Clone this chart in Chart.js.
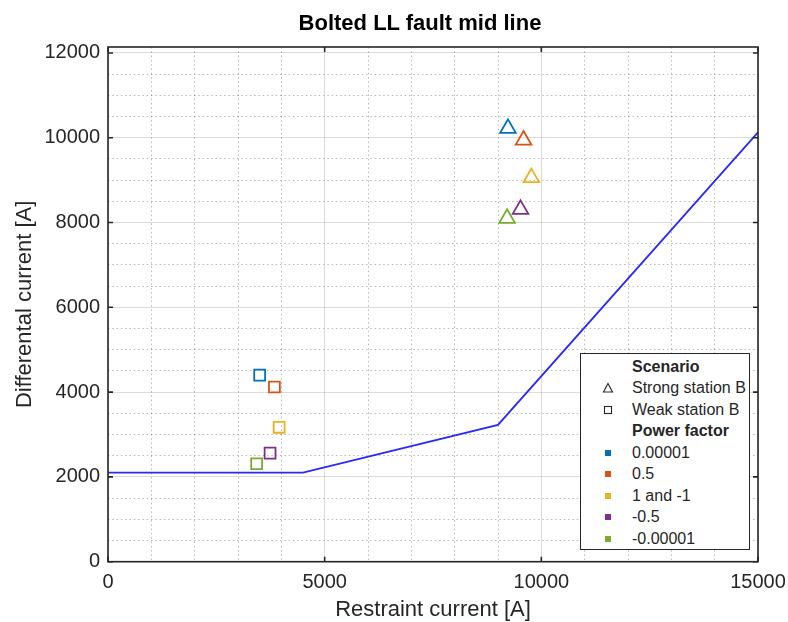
<!DOCTYPE html>
<html>
<head>
<meta charset="utf-8">
<script src="https://cdn.jsdelivr.net/npm/chart.js@4.4.0/dist/chart.umd.min.js"></script>
<style>
html,body{margin:0;padding:0;background:#fff;}
#wrap{position:relative;width:788px;height:622px;font-family:"Liberation Sans",Arial,sans-serif;color:#262626;overflow:hidden;}
#c{position:absolute;left:0;top:0;}
#title{position:absolute;left:220px;width:400px;top:10px;text-align:center;font-weight:bold;font-size:22px;line-height:26px;color:#000;white-space:nowrap;}
#legend{position:absolute;left:580px;top:353px;width:168px;height:195px;border:1px solid #262626;background:#fff;}
.row{position:absolute;left:0;width:168px;height:20px;line-height:20px;font-size:16px;white-space:nowrap;}
.row .t{position:absolute;left:51px;top:0;}
.row .b{font-weight:bold;}
.row svg{position:absolute;left:21px;top:4px;}
.sw{position:absolute;left:24px;top:7px;width:6px;height:6px;}
</style>
</head>
<body>
<div id="wrap">
<canvas id="c" width="788" height="622"></canvas>
<div id="title">Bolted LL fault mid line</div>
<div id="legend"></div>
</div>
<script>
// ---- data ----
const lineX = [0, 4500, 9000, 15000];
const lineY = [2100, 2100, 3225, 10125];

const pfLabels = ['0.00001', '0.5', '1 and -1', '-0.5', '-0.00001'];
const pfColors = ['#0072BD', '#D95319', '#EDB120', '#7E2F8E', '#77AC30'];

const strongX = [9230, 9590, 9770, 9520, 9210];
const strongY = [10220, 9945, 9060, 8310, 8100];

const weakX = [3500, 3840, 3950, 3740, 3430];
const weakY = [4400, 4120, 3170, 2560, 2310];

const xMajorTicks = [0, 5000, 10000, 15000];
const yMajorTicks = [0, 2000, 4000, 6000, 8000, 10000, 12000];
const xMinorStep = 1000;
const yMinorStep = 500;
const xMin = 0, xMax = 15000, yMin = 0, yMax = 12140;

const scenarioLabels = ['Strong station B', 'Weak station B'];
const xTitle = 'Restraint current [A]';
const yTitle = 'Differental current [A]';

// ---- chart ----
const FONT = '"Liberation Sans", Arial, sans-serif';
const TXT = '#262626';
const MAJOR = 'rgba(38,38,38,0.16)';
const MINOR = 'rgba(38,38,38,0.32)';

function makeTicks(min, max, step) {
  const t = [];
  for (let v = min; v <= max + 1e-9; v += step) t.push({value: v});
  return t;
}

const framePlugin = {
  id: 'frame',
  afterDraw(chart) {
    const {ctx, chartArea: {left, right, top, bottom}, scales: {x, y}} = chart;
    ctx.save();
    ctx.strokeStyle = TXT;
    ctx.lineWidth = 1.6;
    ctx.strokeRect(left, top, right - left, bottom - top);
    const tl = 5;
    ctx.beginPath();
    xMajorTicks.forEach(v => {
      const px = x.getPixelForValue(v);
      ctx.moveTo(px, bottom); ctx.lineTo(px, bottom - tl);
      ctx.moveTo(px, top); ctx.lineTo(px, top + tl);
    });
    yMajorTicks.forEach(v => {
      const py = y.getPixelForValue(v);
      ctx.moveTo(left, py); ctx.lineTo(left + tl, py);
      ctx.moveTo(right, py); ctx.lineTo(right - tl, py);
    });
    ctx.stroke();
    ctx.restore();
  }
};

const datasets = [
  {
    type: 'line',
    label: 'Characteristic',
    data: lineX.map((v, i) => ({x: v, y: lineY[i]})),
    borderColor: '#2a2aff',
    borderWidth: 1.9,
    pointRadius: 0,
    fill: false,
    tension: 0
  },
  {
    type: 'scatter',
    label: scenarioLabels[0],
    data: strongX.map((v, i) => ({x: v, y: strongY[i]})),
    pointStyle: 'triangle',
    pointRadius: 9,
    pointBorderWidth: 1.8,
    pointBorderColor: pfColors,
    pointBackgroundColor: 'rgba(0,0,0,0)',
    borderColor: pfColors,
    backgroundColor: 'rgba(0,0,0,0)'
  },
  {
    type: 'scatter',
    label: scenarioLabels[1],
    data: weakX.map((v, i) => ({x: v, y: weakY[i]})),
    pointStyle: 'rect',
    pointRadius: 7.7,
    pointBorderWidth: 1.8,
    pointBorderColor: pfColors,
    pointBackgroundColor: 'rgba(0,0,0,0)',
    borderColor: pfColors,
    backgroundColor: 'rgba(0,0,0,0)'
  }
];

new Chart(document.getElementById('c'), {
  type: 'scatter',
  data: {datasets},
  options: {
    responsive: false,
    animation: false,
    devicePixelRatio: 1,
    layout: {padding: {top: 47, right: 30, left: 0, bottom: 0}},
    plugins: {legend: {display: false}, tooltip: {enabled: false}, title: {display: false}},
    scales: {
      x: {
        type: 'linear',
        min: xMin, max: xMax,
        afterBuildTicks: s => { s.ticks = makeTicks(xMin, xMax, xMinorStep); },
        afterFit: s => { s.height = 60.3; s.paddingLeft = 0; s.paddingRight = 0; },
        ticks: {
          autoSkip: false, maxRotation: 0, minRotation: 0,
          padding: 9,
          color: TXT,
          font: {family: FONT, size: 20},
          callback: v => xMajorTicks.includes(v) ? String(v) : ''
        },
        grid: {
          drawTicks: false,
          lineWidth: 1,
          color: c => (c.tick && xMajorTicks.includes(c.tick.value)) ? MAJOR : MINOR
        },
        border: {
          display: false,
          dash: c => (c.tick && !xMajorTicks.includes(c.tick.value)) ? [1.5, 2.8] : []
        },
        title: {
          display: true, text: xTitle, color: TXT,
          font: {family: FONT, size: 22, lineHeight: 1},
          padding: {top: 0, bottom: 1}
        }
      },
      y: {
        type: 'linear',
        min: yMin, max: yMax,
        afterBuildTicks: s => { s.ticks = makeTicks(yMin, 12000, yMinorStep); },
        afterFit: s => { s.width = 108; s.paddingTop = 0; s.paddingBottom = 0; },
        ticks: {
          autoSkip: false,
          padding: 8,
          color: TXT,
          font: {family: FONT, size: 20},
          callback: v => yMajorTicks.includes(v) ? String(v) : ''
        },
        grid: {
          drawTicks: false,
          lineWidth: 1,
          color: c => (c.tick && yMajorTicks.includes(c.tick.value)) ? MAJOR : MINOR
        },
        border: {
          display: false,
          dash: c => (c.tick && !yMajorTicks.includes(c.tick.value)) ? [1.5, 2.8] : []
        },
        title: {
          display: true, text: yTitle, color: TXT,
          font: {family: FONT, size: 22, lineHeight: 1},
          padding: {top: 14, bottom: 0}
        }
      }
    }
  },
  plugins: [framePlugin]
});

// ---- legend (HTML) ----
const leg = document.getElementById('legend');
const rowCenters0 = 366.7 - 354; // first row centre relative to legend inner top
const rowStep = 21.5;
const rows = [];
rows.push({bold: true, text: 'Scenario'});
rows.push({sym: 'tri', text: scenarioLabels[0]});
rows.push({sym: 'sq', text: scenarioLabels[1]});
rows.push({bold: true, text: 'Power factor'});
pfLabels.forEach((l, i) => rows.push({color: pfColors[i], text: l}));
rows.forEach((r, i) => {
  const d = document.createElement('div');
  d.className = 'row';
  d.style.top = (rowCenters0 + i * rowStep - 10) + 'px';
  let h = '';
  if (r.sym === 'tri') {
    h += '<svg width="12" height="12" viewBox="0 0 12 12"><polygon points="6,1.5 10.5,10 1.5,10" fill="none" stroke="#262626" stroke-width="1.1"/></svg>';
  } else if (r.sym === 'sq') {
    h += '<svg width="12" height="12" viewBox="0 0 12 12"><rect x="2.5" y="2.5" width="7" height="7" fill="none" stroke="#262626" stroke-width="1.1"/></svg>';
  } else if (r.color) {
    h += '<div class="sw" style="background:' + r.color + '"></div>';
  }
  h += '<span class="t' + (r.bold ? ' b' : '') + '">' + r.text + '</span>';
  d.innerHTML = h;
  leg.appendChild(d);
});
</script>
</body>
</html>
